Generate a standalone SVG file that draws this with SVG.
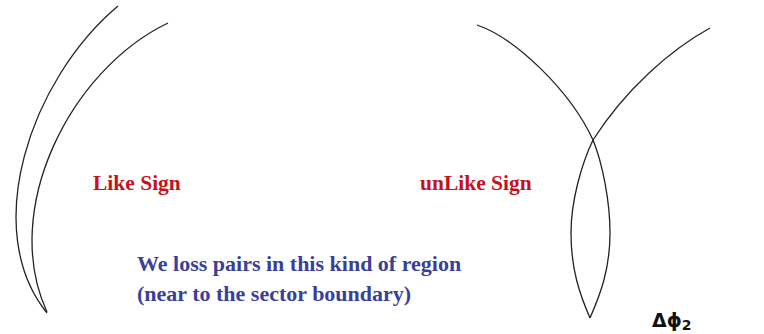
<svg xmlns="http://www.w3.org/2000/svg" width="764" height="334" viewBox="0 0 764 334">
<style>
.arc{fill:none;stroke:#222;stroke-width:1.3}
.red{font-family:"Liberation Serif",serif;font-weight:bold;font-size:21.5px;fill:#c4121e}
.blue{font-family:"Liberation Serif",serif;font-weight:bold;font-size:22px;fill:#3a3f98}
.lbl{font-family:"DejaVu Sans","Liberation Sans",sans-serif;font-weight:bold;font-size:19px;fill:#111}
</style>
<rect width="764" height="334" fill="#fff"/>
<g id="connectors">
<path class="arc" d="M118,6 C30,80 -20,230 47,313"/>
<path class="arc" d="M168,23 C70,70 0,210 47,312"/>
<path class="arc" d="M477,25 C515,38 570,90 593,140 C602,162 610,200 610,233 C610,270 600,295 590,318"/>
<path class="arc" d="M710,28 C670,50 625,90 593,140 C582,163 571,200 571,233 C571,270 580,295 590,318"/>
</g>
<g id="like"><text class="red" x="93" y="190">Like Sign</text></g>
<g id="unlike"><text class="red" x="420" y="190" font-size="22">unLike Sign</text></g>
<g id="note">
<text class="blue" x="137" y="271">We loss pairs in this kind of region</text>
<text class="blue" x="137" y="301">(near to the sector boundary)</text>
</g>
<g id="dphi"><text class="lbl" x="652" y="327">Δϕ<tspan font-size="14" dy="3">2</tspan></text></g>
</svg>
